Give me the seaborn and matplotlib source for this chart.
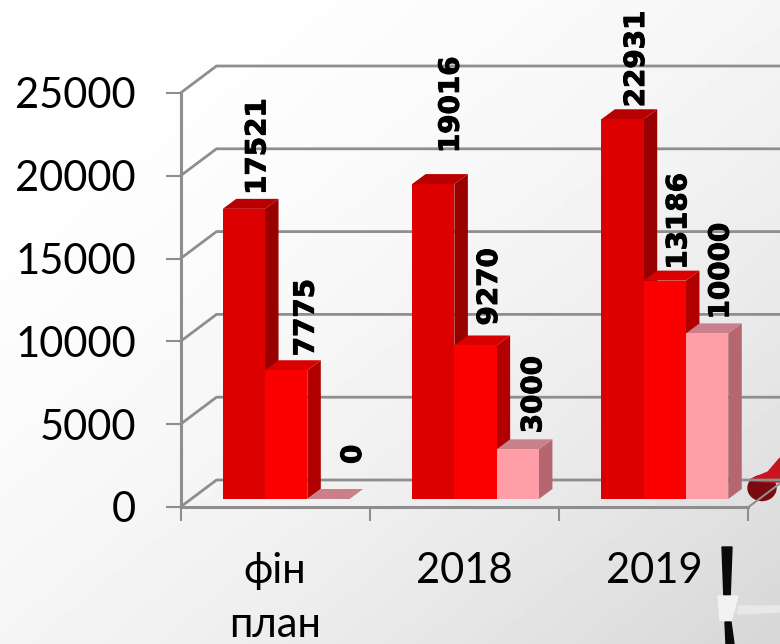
import numpy as np
import pandas as pd
import seaborn as sns
import matplotlib.pyplot as plt
import matplotlib.patheffects as pe
from matplotlib.patches import Polygon, Ellipse
from matplotlib.transforms import Affine2D

categories = ['фін\nплан', '2018', '2019']
series_names = ['a', 'b', 'c']
values_a = [17521, 19016, 22931]
values_b = [7775, 9270, 13186]
values_c = [0, 3000, 10000]
y_ticks = [0, 5000, 10000, 15000, 20000, 25000]

front_colors = ['#dc0000', '#fa0000', '#ff9ea6']
side_colors = ['#990000', '#b00000', '#b5666f']
top_colors = ['#b80000', '#d80000', '#c9808a']

# hand nudges for the value labels, in pixels (dx, gap above bar)
label_nudge = {
    17521: (0, 4), 19016: (4, 21), 22931: (0, 2),
    7775: (6, 4), 9270: (0, 10), 13186: (0, 1),
    0: (11, 25), 3000: (2, 6), 10000: (0, 4),
}

df = pd.DataFrame({
    'cat': categories * 3,
    'series': sum([[s] * 3 for s in series_names], []),
    'value': values_a + values_b + values_c,
})

W, H = 780, 644
sns.set_style('white')
plt.rcParams['font.family'] = ['Lato', 'Open Sans', 'DejaVu Sans']

fig = plt.figure(figsize=(W / 100, H / 100), dpi=100)

# background photo-ish stuff, in pixel coords
bg = fig.add_axes([0, 0, 1, 1], zorder=0)
xx, yy = np.meshgrid(np.linspace(0, 1, 200), np.linspace(0, 1, 200))
shade = 1 - 0.16 * ((xx + yy) / 2) ** 2
bg.imshow(shade, extent=[0, W, H, 0], cmap='gray', vmin=0, vmax=1, aspect='auto')
bg.add_patch(Ellipse((762, 488), 28, 25, color='#7a0a10'))
bg.add_patch(Polygon([(749, 480), (768, 472), (780, 458), (780, 482), (765, 482)], color='#c81420'))
bg.add_patch(Polygon([(722, 547), (732, 547), (730, 600), (724, 600)], color='#0a0a0a'))
bg.add_patch(Polygon([(718, 596), (738, 596), (731, 622), (720, 620)], color='#f2f2f2'))
bg.add_patch(Polygon([(725, 622), (731, 622), (734, 644), (726, 644)], color='#0a0a0a'))
bg.add_patch(Polygon([(738, 606), (780, 606), (780, 612), (738, 614)], color='#e8e8e8'))
bg.set_xlim(0, W)
bg.set_ylim(H, 0)
bg.axis('off')

ax = fig.add_axes([180.5 / W, (H - 507) / H, 568 / W, 414 / H], zorder=1)
ax.patch.set_alpha(0)

sns.barplot(data=df, x='cat', y='value', hue='series', hue_order=series_names,
            palette=front_colors, saturation=1, width=0.67, linewidth=0,
            legend=False, ax=ax, zorder=4)

ax.set_xlim(-0.5, 2.5)
ax.set_ylim(0, 25000)

# depth of the fake 3d, in data units
px_x = 3 / 568
px_y = 25000 / 414
wall_dx, wall_dy = 36 * px_x, 27 * px_y
plane_dx, plane_dy = 11 * px_x, 8 * px_y
bar_dx, bar_dy = 13.5 * px_x, 10 * px_y
grey = '#8e8e8e'

# wall lines
for t in y_ticks:
    ax.plot([-0.5, -0.5 + wall_dx, 2.5 + wall_dx], [t, t + wall_dy, t + wall_dy],
            color=grey, lw=2, clip_on=False, zorder=1, solid_joinstyle='miter')
ax.plot([2.5, 2.5 + wall_dx], [0, wall_dy], color=grey, lw=1.5, clip_on=False, zorder=1)

shift = Affine2D().translate(plane_dx, plane_dy) + ax.transData
z = 3
for s, container in enumerate(ax.containers):
    for bar, value in zip(container, [values_a, values_b, values_c][s]):
        x0, w, h = bar.get_x(), bar.get_width(), bar.get_height()
        side = [(x0 + w, 0), (x0 + w + bar_dx, bar_dy), (x0 + w + bar_dx, h + bar_dy), (x0 + w, h)]
        top = [(x0, h), (x0 + bar_dx, h + bar_dy), (x0 + w + bar_dx, h + bar_dy), (x0 + w, h)]
        ax.add_patch(Polygon(side, color=side_colors[s], lw=0, transform=shift, clip_on=False, zorder=z))
        ax.add_patch(Polygon(top, color=top_colors[s], lw=0, transform=shift, clip_on=False, zorder=z))
        bar.set_transform(shift)
        bar.set_clip_on(False)
        bar.set_zorder(z + 0.5)
        nudge_x, gap = label_nudge[value]
        ax.text(x0 + w / 2 + bar_dx + nudge_x * px_x, h + bar_dy + gap * px_y, str(value),
                transform=shift, rotation=90, ha='center', va='bottom', fontsize=20,
                fontweight='bold', family='DejaVu Sans', color='black', clip_on=False, zorder=10,
                path_effects=[pe.withStroke(linewidth=0.7, foreground='black')])
    z += 1

for name in ['top', 'right']:
    ax.spines[name].set_visible(False)
for name in ['left', 'bottom']:
    ax.spines[name].set_color(grey)
    ax.spines[name].set_linewidth(2.2)
    ax.spines[name].set_zorder(2)

ax.set_yticks(y_ticks)
ax.set_xticks([0, 1, 2])
ax.set_xticklabels(categories, linespacing=1.5, va='top')
ax.set_xticks([-0.5, 0.5, 1.5, 2.5], minor=True)
ax.tick_params(axis='y', which='major', left=True, length=11, width=1.5, color=grey,
               labelsize=30, labelcolor='black', pad=21)
ax.tick_params(axis='x', which='major', bottom=False, labelsize=30, labelcolor='black', pad=29)
ax.tick_params(axis='x', which='minor', bottom=True, length=10, width=1.5, color=grey)
ax.set_xlabel('')
ax.set_ylabel('')

fig.savefig('out.png', dpi=100)
